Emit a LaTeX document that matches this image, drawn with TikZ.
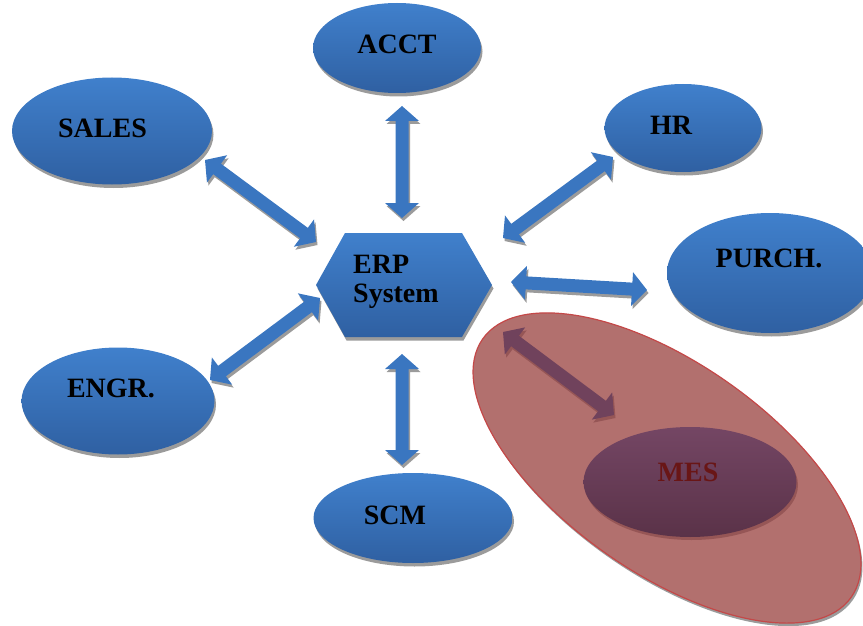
\documentclass[tikz,border=0pt]{standalone}
\usepackage{fontspec}
\setmainfont{Liberation Serif}
\usetikzlibrary{calc,shadows,shapes.geometric}
\definecolor{bluetop}{RGB}{64,128,204}
\definecolor{bluebot}{RGB}{47,96,162}
\definecolor{arrowblue}{RGB}{58,118,192}
\definecolor{redfill}{RGB}{178,112,110}
\definecolor{redline}{RGB}{196,72,72}
\definecolor{mestop}{RGB}{116,70,100}
\definecolor{mesbot}{RGB}{90,50,72}
\definecolor{mestext}{RGB}{105,22,22}
\definecolor{mesarrow}{RGB}{112,66,92}
\definecolor{shadowgray}{RGB}{155,155,155}
\definecolor{shadowred}{RGB}{150,86,86}
\tikzset{
  blob/.style={ellipse, top color=bluetop, bottom color=bluebot, draw=none, inner sep=0pt,
    drop shadow={shadow xshift=1.5pt, shadow yshift=-3.5pt, fill=shadowgray, opacity=1}},
  lbl/.style={font=\bfseries\fontsize{28}{28}\selectfont, anchor=base, inner sep=0pt},
  bluearrow/.style={fill=arrowblue,
    drop shadow={shadow xshift=1.5pt, shadow yshift=-3pt, fill=shadowgray, opacity=1}},
  mesarr/.style={fill=mesarrow,
    drop shadow={shadow xshift=1.5pt, shadow yshift=-3pt, fill=shadowred, opacity=1}},
}
\newcommand\blockarr[3]{%
  \coordinate (ba) at ($(#2)!15pt!(#3)$);
  \coordinate (bb) at ($(#3)!15pt!(#2)$);
  \path[#1] (#2) -- ($(ba)!17pt!90:(#3)$) -- ($(ba)!6.5pt!90:(#3)$)
    -- ($(bb)!6.5pt!-90:(#2)$) -- ($(bb)!17pt!-90:(#2)$) -- (#3)
    -- ($(bb)!17pt!90:(#2)$) -- ($(bb)!6.5pt!90:(#2)$)
    -- ($(ba)!6.5pt!-90:(#3)$) -- ($(ba)!17pt!-90:(#3)$) -- cycle;
}
\begin{document}
\begin{tikzpicture}[x=1pt,y=-1pt]
\useasboundingbox (0,0) rectangle (863,626);
% big red ellipse
\node[ellipse, fill=redfill, draw=redline, line width=1.2pt, minimum width=450pt, minimum height=210pt,
  rotate=-35, drop shadow={shadow xshift=1.5pt, shadow yshift=-3pt, fill=shadowgray, opacity=1}]
  (zone) at (667,468) {};
% blue ellipses
\node[blob, minimum width=168pt, minimum height=90pt] (acct) at (397,48) {};
\node[blob, minimum width=200pt, minimum height=107pt] (sales) at (112,131) {};
\node[blob, minimum width=157pt, minimum height=88pt] (hr) at (683,128) {};
\node[blob, minimum width=206pt, minimum height=120pt] (purch) at (770,273) {};
\node[blob, minimum width=193pt, minimum height=107pt] (engr) at (118,401) {};
\node[blob, minimum width=199pt, minimum height=90pt] (scm) at (413,518) {};
% MES ellipse
\node[ellipse, top color=mestop, bottom color=mesbot, inner sep=0pt, minimum width=213pt, minimum height=110pt,
  drop shadow={shadow xshift=1.5pt, shadow yshift=-3pt, fill=shadowred, opacity=1}] (mes) at (690,482) {};
% hexagon
\path[top color=bluetop, bottom color=bluebot,
  drop shadow={shadow xshift=1.5pt, shadow yshift=-3.5pt, fill=shadowgray, opacity=1}]
  (345,233) -- (462,233) -- (492,285) -- (462,337) -- (345,337) -- (316,285) -- cycle;
% labels
\node[lbl] (tacct) at (397,54) {ACCT};
\node[lbl] (tsales) at (102.5,138) {SALES};
\node[lbl] (thr) at (671,135) {HR};
\node[lbl] (tpurch) at (769,267) {PURCH.};
\node[lbl] (tengr) at (111,397) {ENGR.};
\node[lbl] (tscm) at (395,524) {SCM};
\node[lbl, text=mestext] (tmes) at (688,481) {MES};
\node[lbl, anchor=base west] (terp) at (353,273) {ERP};
\node[lbl, anchor=base west] (tsys) at (353,302) {System};
% arrow end points
\coordinate (a1) at (402,106); \coordinate (a2) at (402,218);
\coordinate (s1) at (205,160); \coordinate (s2) at (316,242);
\coordinate (h1) at (613,157); \coordinate (h2) at (503,238);
\coordinate (p1) at (511,282); \coordinate (p2) at (647,290);
\coordinate (e1) at (320,298); \coordinate (e2) at (210,380);
\coordinate (c1) at (402,354); \coordinate (c2) at (402,465);
\coordinate (m1) at (503,332); \coordinate (m2) at (614,415);
\blockarr{bluearrow}{a1}{a2}
\blockarr{bluearrow}{s1}{s2}
\blockarr{bluearrow}{h1}{h2}
\blockarr{bluearrow}{p1}{p2}
\blockarr{bluearrow}{e1}{e2}
\blockarr{bluearrow}{c1}{c2}
\blockarr{mesarr}{m1}{m2}
\end{tikzpicture}
\end{document}
